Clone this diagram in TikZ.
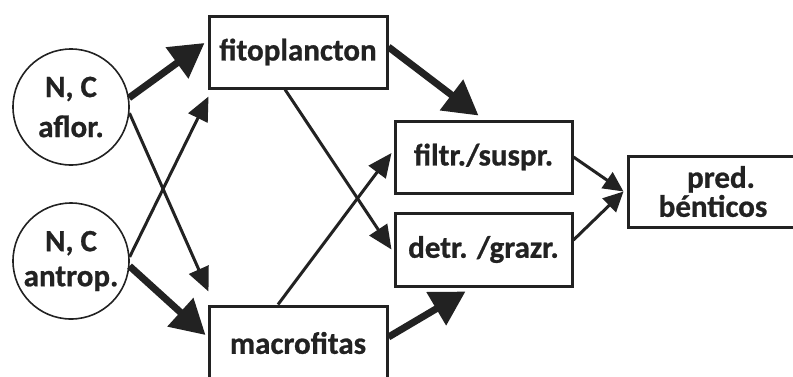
\documentclass[tikz,border=0pt]{standalone}
\usepackage{fontspec}
\setmainfont{Carlito}[BoldFeatures={FakeBold=0.8}]
\usetikzlibrary{arrows.meta}
\definecolor{ink}{RGB}{34,34,34}
\tikzset{
  txt/.style={font=\fontsize{31}{30}\selectfont\bfseries, text=ink, align=center},
  source/.style={txt, circle, draw=ink, line width=1.6pt, minimum size=116pt, inner sep=0pt},
  box/.style={txt, rectangle, draw=ink, line width=3pt, inner sep=0pt},
  thin/.style={draw=ink, line width=3pt, -{Triangle[length=24pt,width=21pt]}},
  heavy/.style={draw=ink, line width=7pt, -{Triangle[length=34pt,width=37pt]}},
  mid/.style={draw=ink, line width=3pt, -{Triangle[length=20pt,width=19pt]}},
}
\begin{document}
\begin{tikzpicture}[x=1pt,y=-1pt]
  \clip (0,0) rectangle (793,376);
  \fill[white] (0,0) rectangle (793,376);

  % nutrient sources
  \node[source, font=\fontsize{31}{40}\selectfont\bfseries] (c1) at (71,107) {N, C\\aflor.};
  \node[source, font=\fontsize{31}{35}\selectfont\bfseries] (c2) at (71,261) {N, C\\antrop.};

  % primary producers
  \node[box, minimum width=178pt, minimum height=72pt] (fito) at (298,52) {fitoplancton};
  \node[box, minimum width=178pt, minimum height=74pt] (macro) at (298,343) {macrofitas};

  % consumers
  \node[box, minimum width=177pt, minimum height=72pt] (filtr) at (483.5,157) {filtr./suspr.};
  \node[box, minimum width=177pt, minimum height=73pt] (detr) at (483.5,249.5) {detr. /grazr.};
  \node[box, minimum width=170pt, minimum height=71pt, font=\fontsize{31}{29}\selectfont\bfseries] (pred) at (713,191.5) {\hspace*{16pt}pred.\\bénticos};

  % flows from the sources
  \draw[heavy] (c1.9) -- ([xshift=-3pt,yshift=9pt]fito.west);
  \draw[thin]  (c1.-6) -- ([xshift=1pt,yshift=13pt]macro.north west);
  \draw[thin]  (c2.4) -- ([xshift=1pt,yshift=-7pt]fito.south west);
  \draw[heavy] (c2.-5) -- ([xshift=-2pt,yshift=8pt]macro.west);

  % flows from the producers
  \draw[thin]  ([xshift=-13pt]fito.south) -- ([xshift=-2pt]detr.west);
  \draw[thin]  ([xshift=-20pt]macro.north) -- ([xshift=-2pt,yshift=4pt]filtr.west);
  \draw[heavy] ([yshift=5pt]fito.east) -- ([xshift=-5pt,yshift=4pt]filtr.north);
  \draw[heavy] ([yshift=6pt]macro.east) -- ([xshift=-18pt,yshift=-4pt]detr.south);

  % flows to the predators
  \draw[mid] (filtr.east) -- ([xshift=-3pt]pred.west);
  \draw[mid] ([yshift=9.5pt]detr.east) -- ([xshift=-3pt]pred.west);
\end{tikzpicture}
\end{document}
